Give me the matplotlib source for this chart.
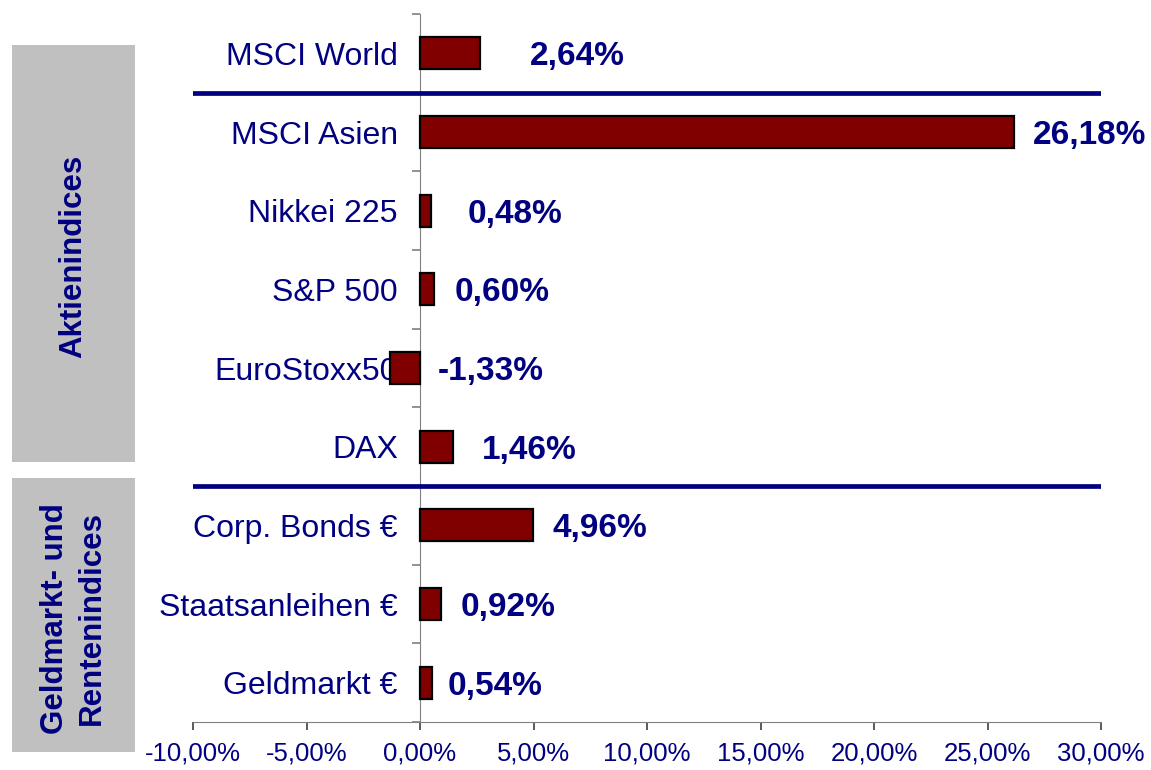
import matplotlib
matplotlib.use("Agg")
import matplotlib.pyplot as plt
from matplotlib.patches import Rectangle
from matplotlib.ticker import FuncFormatter, FixedLocator

plt.rcParams['font.family'] = ['Liberation Sans', 'DejaVu Sans']

navy = "#000080"
bar_color = "#800000"
box_gray = "#c0c0c0"

# categories, top to bottom
categories = ["MSCI World", "MSCI Asien", "Nikkei 225", "S&P 500", "EuroStoxx50",
              "DAX", "Corp. Bonds €", "Staatsanleihen €", "Geldmarkt €"]
# performance in %
values = [2.64, 26.18, 0.48, 0.60, -1.33, 1.46, 4.96, 0.92, 0.54]
xticks = [-10, -5, 0, 5, 10, 15, 20, 25, 30]

group_labels = ["Aktienindices", "Geldmarkt- und\nRentenindices"]

# label offsets (pixels) from bar end - labels were hand placed in original
label_offsets = [50, 19, 37, 21, 48, 29, 20, 20, 15]

fig = plt.figure(figsize=(11.51, 7.70), dpi=100)
ax = fig.add_axes([0.1677, 0.0623, 0.7889, 0.9195])

pos = list(range(len(categories)))
ax.barh(pos, values, height=0.41, color=bar_color, edgecolor="black",
        linewidth=1.6, zorder=3)

ax.set_ylim(len(categories) - 0.5, -0.5)
ax.set_xlim(-10, 30)

# separator lines between groups
for y in [0.5, 5.5]:
    ax.axhline(y, color=navy, linewidth=3.4, zorder=4)

# value labels
for i, v in enumerate(values):
    txt = f"{v:.2f}%".replace(".", ",")
    ax.annotate(txt, xy=(v, i), xytext=(label_offsets[i], 0),
                textcoords="offset pixels", ha="left", va="center_baseline",
                fontsize=24, fontweight="bold", color=navy, zorder=5)

# spines
for s in ["top", "right"]:
    ax.spines[s].set_visible(False)
ax.spines["left"].set_position(("data", 0))
ax.spines["left"].set_color("#808080")
ax.spines["bottom"].set_color("#808080")
ax.spines["left"].set_zorder(2)

ax.set_xticks(xticks)
ax.xaxis.set_major_formatter(FuncFormatter(lambda v, p: f"{v:.2f}%".replace(".", ",")))
ax.tick_params(axis="x", direction="out", length=6, width=1.2, color="#404040",
               labelsize=18.5, labelcolor=navy, pad=8)

ax.set_yticks(pos)
ax.set_yticklabels(categories)
ax.yaxis.set_minor_locator(FixedLocator([p - 0.5 for p in pos] + [len(pos) - 0.5]))
ax.tick_params(axis="y", which="major", length=0, labelsize=23, labelcolor=navy, pad=16)
ax.tick_params(axis="y", which="minor", direction="out", length=6, width=1.2, color="#808080")

# grey group boxes on the left
boxes = [(0.0104, 0.4000, 0.1069, 0.5416), (0.0104, 0.0234, 0.1069, 0.3558)]
for (x0, y0, w, h), lab in zip(boxes, group_labels):
    fig.patches.append(Rectangle((x0, y0), w, h, transform=fig.transFigure,
                                 facecolor=box_gray, edgecolor="none", zorder=0))
    fig.text(x0 + w / 2, y0 + h / 2 - 0.004, lab, rotation=90, ha="center", va="center",
             fontsize=22.5, fontweight="bold", color=navy, linespacing=1.3,
             multialignment="center")

plt.savefig("out.png", dpi=100)
